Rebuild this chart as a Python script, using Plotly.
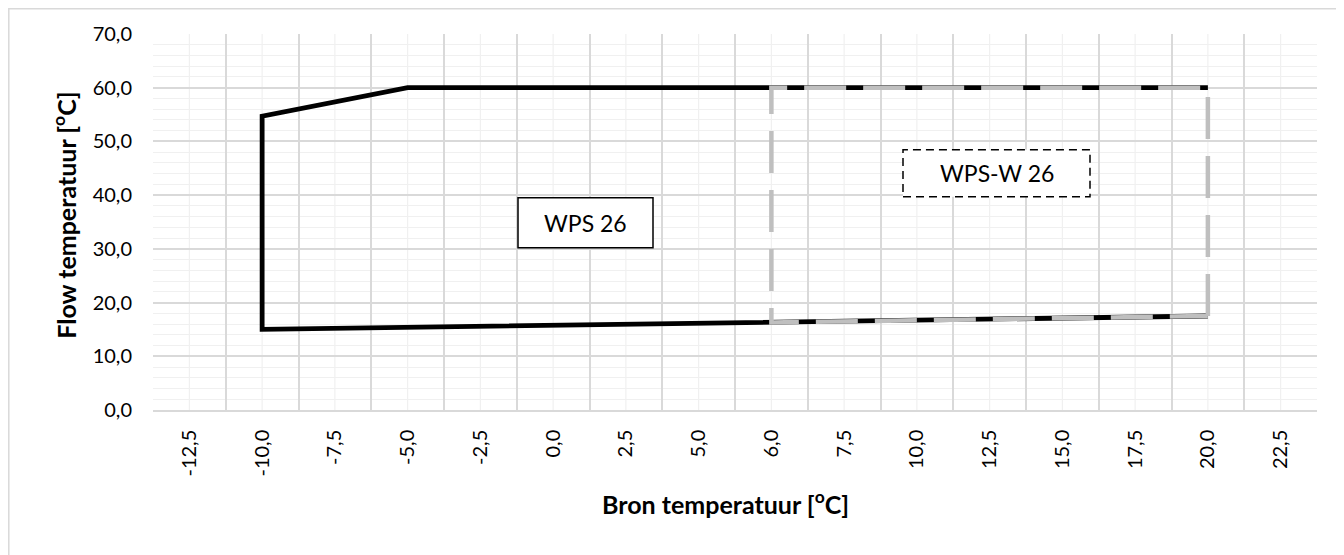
import plotly.graph_objects as go

# ---- data ----
x_categories = [-12.5, -10.0, -7.5, -5.0, -2.5, 0.0, 2.5, 5.0, 6.0, 7.5,
                10.0, 12.5, 15.0, 17.5, 20.0, 22.5]

wps26_x = [20.0, -10.0, -10.0, -5.0, 20.0]
wps26_y = [17.5, 15.0, 54.7, 60.0, 60.0]

wpsw26_x = [20.0, 20.0, 6.0, 6.0, 20.0]
wpsw26_y = [17.5, 60.0, 60.0, 16.3, 17.5]

y_range = [0, 70]


def lbl(v):
    return f"{v:.1f}".replace(".", ",")


cat_labels = [lbl(v) for v in x_categories]

FONT = "Lato"
OFF = 8  # page body margin
W, H = 1344 - OFF, 555 - OFF
# plot-area edges in window pixel coordinates
PL, PR, PT, PB = 153, 1317, 34, 410.5
PW, PH = PR - PL, PB - PT


def px(xp):
    return (xp - PL) / PW


def py(yp):
    return (PB - yp) / PH


fig = go.Figure()

fig.add_trace(go.Scatter(
    x=[lbl(v) for v in wps26_x], y=wps26_y, mode="lines",
    line=dict(color="#000000", width=4.8), name="WPS 26",
    showlegend=False, hoverinfo="skip"))

fig.add_trace(go.Scatter(
    x=[lbl(v) for v in wpsw26_x], y=wpsw26_y, mode="lines",
    line=dict(color="#bfbfbf", width=4.5, dash="42px,17px"), name="WPS-W 26",
    showlegend=False, hoverinfo="skip"))

shapes = []
# minor vertical gridlines at category centres
for c in cat_labels:
    shapes.append(dict(type="line", xref="x", yref="paper", x0=c, x1=c,
                       y0=0, y1=1, layer="below",
                       line=dict(color="#f0f0f0", width=1.2)))
# text boxes
shapes.append(dict(type="rect", xref="paper", yref="paper",
                   x0=px(518), x1=px(653), y0=py(248), y1=py(198),
                   line=dict(color="#000000", width=1.5),
                   fillcolor="white", layer="above"))
shapes.append(dict(type="rect", xref="paper", yref="paper",
                   x0=px(903), x1=px(1090), y0=py(197), y1=py(150),
                   line=dict(color="#000000", width=1.5, dash="8px,5px"),
                   fillcolor="white", layer="above"))
# outer chart border
shapes.append(dict(type="rect", xref="paper", yref="paper",
                   x0=px(8.8), x1=px(1337), y0=py(570), y1=py(8.8),
                   line=dict(color="#d9d9d9", width=1.5), layer="below"))

annotations = [
    dict(text="WPS 26", x=px(585.5), y=py(223), xref="paper", yref="paper",
         xanchor="center", yanchor="middle", showarrow=False,
         font=dict(family=FONT, size=23, color="#000000")),
    dict(text="WPS-W 26", x=px(996.5), y=py(173.5), xref="paper", yref="paper",
         xanchor="center", yanchor="middle", showarrow=False,
         font=dict(family=FONT, size=23, color="#000000")),
    dict(text="<b>Flow temperatuur [<sup>o</sup>C]</b>", x=px(65), y=py(216),
         xref="paper", yref="paper", textangle=-90, showarrow=False,
         xanchor="center", yanchor="middle",
         font=dict(family=FONT, size=25, color="#000000")),
    dict(text="<b>Bron temperatuur [<sup>o</sup>C]</b>", x=px(725), y=py(503),
         xref="paper", yref="paper", showarrow=False,
         xanchor="center", yanchor="middle",
         font=dict(family=FONT, size=25, color="#000000")),
]

fig.update_layout(
    width=W, height=H, autosize=False,
    margin=dict(l=PL - OFF, r=W - (PR - OFF), t=PT - OFF, b=H - (PB - OFF)),
    paper_bgcolor="white", plot_bgcolor="white",
    separators=",.",
    shapes=shapes, annotations=annotations,
    showlegend=False,
    xaxis=dict(type="category", categoryorder="array", categoryarray=cat_labels,
               range=[-0.5, len(cat_labels) - 0.5], tickson="boundaries",
               showgrid=True, gridcolor="#d9d9d9", gridwidth=1.5,
               showline=True, linecolor="#d9d9d9", linewidth=1.5,
               ticks="", tickangle=-90, ticklabelstandoff=10,
               tickfont=dict(family=FONT, size=20, color="#000000"),
               zeroline=False, fixedrange=True),
    yaxis=dict(range=y_range, dtick=10, tick0=0, tickformat=".1f",
               showgrid=True, gridcolor="#d9d9d9", gridwidth=1.5,
               minor=dict(dtick=2, showgrid=True, gridcolor="#f0f0f0",
                          gridwidth=1.2, ticks=""),
               showline=False, ticks="", ticklabelstandoff=20,
               tickfont=dict(family=FONT, size=20, color="#000000"),
               zeroline=False, fixedrange=True),
)

fig.write_html("out.html")
